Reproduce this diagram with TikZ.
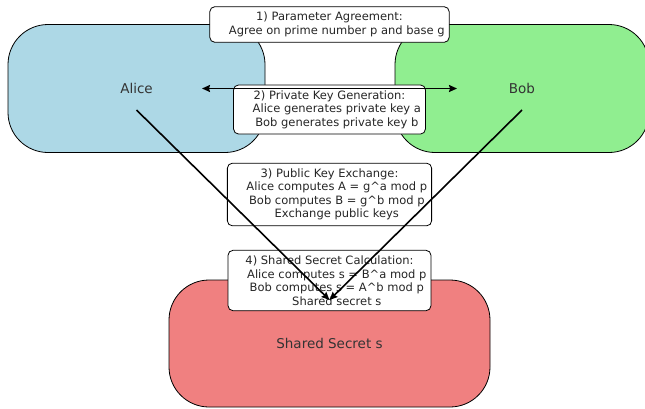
\documentclass[tikz,border=0pt]{standalone}
\usepackage{fontspec}
\setmainfont{DejaVu Sans}
\usetikzlibrary{arrows.meta}
\definecolor{partyA}{HTML}{ADD8E6}
\definecolor{partyB}{HTML}{90EE90}
\definecolor{secretfill}{HTML}{F08080}
\newcommand{\ind}{\hspace*{1.272em}}
\newcommand{\caret}{\textasciicircum}
\tikzset{
    >={Stealth[length=8pt,width=7pt,inset=1pt]},
    party/.style={draw, line width=0.8pt, rounded corners=40pt, inner sep=0pt, text=black!80,
                  font=\fontsize{13.5}{16}\selectfont},
    stepbox/.style={draw, line width=0.8pt, fill=white, rounded corners=5pt, align=center,
                    inner xsep=4.5pt, inner ysep=5.5pt,
                    text=black!85, font=\fontsize{11.5}{13.5}\selectfont},
    flow/.style={black, line width=1.6pt},
}

\begin{document}
\begin{tikzpicture}[x=1pt, y=-1pt]
    \useasboundingbox (0,0) rectangle (645,408);

    \node [party] [fill=partyA]     [minimum width=257, minimum height=128] (alice)  at (136.5,88.5)  {Alice};
    \node [party] [fill=partyB]     [minimum width=254, minimum height=128] (bob)    at (522,88.5)    {Bob};
    \node [party] [fill=secretfill] [minimum width=321, minimum height=127] (secret) at (329.5,343.5) {Shared Secret s};

    \node [stepbox] (agree)    at (329.5,24.5)  {1) Parameter Agreement:\\ \ind Agree on prime number p and base g};
    \node [stepbox] (private)  at (329.5,109.5) {2) Private Key Generation:\\ \ind Alice generates private key a\\ \ind Bob generates private key b};
    \node [stepbox] (public)   at (329.5,194.5) {3) Public Key Exchange:\\ \ind Alice computes A = g\caret a mod p\\ \ind Bob computes B = g\caret b mod p\\ \ind Exchange public keys};
    \node [stepbox] (shared)   at (329.5,280.5) {4) Shared Secret Calculation:\\ \ind Alice computes s = B\caret a mod p\\ \ind Bob computes s = A\caret b mod p\\ \ind Shared secret s};

    \draw [flow, <->] ([xshift=65.5pt]alice.center) -- ([xshift=-65pt]bob.center);
    \draw [flow, ->]  ([yshift=-21.5pt]alice.center) -- ([yshift=43.5pt]secret.center);
    \draw [flow, ->]  ([yshift=-21.5pt]bob.center)   -- ([yshift=43.5pt]secret.center);
\end{tikzpicture}
\end{document}
